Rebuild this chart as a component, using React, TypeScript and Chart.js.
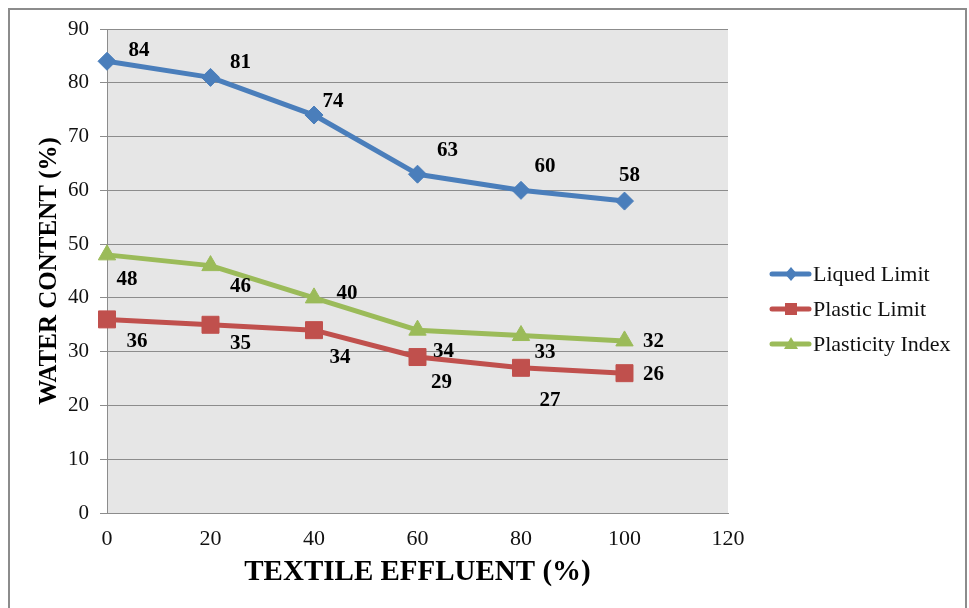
import React, { useEffect, useRef } from "react";
import { Chart, registerables } from "chart.js";

Chart.register(...registerables);

const effluent = [0, 20, 40, 60, 80, 100];
const liquidLimit = [84, 81, 74, 63, 60, 58];
const plasticLimit = [36, 35, 34, 29, 27, 26];
const plasticityIndex = [48, 46, 40, 34, 33, 32];
const seriesNames = ["Liqued Limit", "Plastic Limit", "Plasticity Index"];

// label offsets (style only)
const liquidOffsets = [[32, -11], [30, -15], [19, -13], [30, -24], [24, -24], [5, -26]];
const plasticOffsets = [[30, 22], [30, 19], [26, 27], [24, 26], [29, 33], [29, 1]];
const indexOffsets = [[20, 25], [30, 21], [33, -4], [26, 21], [24, 17], [29, 1]];

const SERIF = "'Liberation Serif', 'Times New Roman', serif";

export default function App() {
  const ref = useRef<HTMLCanvasElement | null>(null);
  useEffect(() => {
    document.documentElement.style.overflow = "hidden";
    if (!ref.current) return;
    const offsetsList = [liquidOffsets, plasticOffsets, indexOffsets];
    const mk = (label: string, vals: number[], color: string, style: any, radius: number) => ({
      label,
      data: effluent.map((x, i) => ({ x, y: vals[i] })),
      borderColor: color,
      backgroundColor: color,
      pointBackgroundColor: color,
      pointBorderColor: color,
      pointBorderWidth: 1,
      pointStyle: style,
      pointRadius: radius,
      borderWidth: 5,
      borderJoinStyle: "round",
      borderCapStyle: "round",
      tension: 0,
      clip: false,
    });
    const bgPlugin = {
      id: "bg",
      beforeDraw(chart: any) {
        const { ctx, chartArea } = chart;
        ctx.save();
        ctx.fillStyle = "#e6e6e6";
        ctx.fillRect(chartArea.left, chartArea.top, chartArea.right - chartArea.left, chartArea.bottom - chartArea.top);
        ctx.restore();
      },
    };
    const labelPlugin = {
      id: "labels",
      afterDatasetsDraw(chart: any) {
        const { ctx } = chart;
        ctx.save();
        ctx.font = `bold 21px ${SERIF}`;
        ctx.fillStyle = "#000";
        ctx.textAlign = "center";
        ctx.textBaseline = "middle";
        chart.data.datasets.forEach((ds: any, di: number) => {
          const meta = chart.getDatasetMeta(di);
          meta.data.forEach((pt: any, i: number) => {
            const off = offsetsList[di][i];
            ctx.fillText(String(ds.data[i].y), pt.x + off[0], pt.y + off[1]);
          });
        });
        ctx.restore();
      },
    };
    const legendPlugin = {
      id: "customLegend",
      afterDraw(chart: any) {
        const { ctx } = chart;
        ctx.save();
        chart.data.datasets.forEach((ds: any, i: number) => {
          const y = 264 + i * 35;
          const x0 = 762, x1 = 799;
          const cx = 781;
          ctx.strokeStyle = ds.borderColor;
          ctx.lineWidth = 5;
          ctx.lineCap = "round";
          ctx.beginPath();
          ctx.moveTo(x0, y);
          ctx.lineTo(x1, y);
          ctx.stroke();
          ctx.fillStyle = ds.borderColor;
          ctx.beginPath();
          if (ds.pointStyle === "rectRot") {
            ctx.moveTo(cx, y - 7); ctx.lineTo(cx + 6, y); ctx.lineTo(cx, y + 7); ctx.lineTo(cx - 6, y);
          } else if (ds.pointStyle === "rect") {
            ctx.rect(cx - 6, y - 6, 12, 12);
          } else {
            ctx.moveTo(cx, y - 7); ctx.lineTo(cx + 7, y + 5); ctx.lineTo(cx - 7, y + 5);
          }
          ctx.closePath();
          ctx.fill();
          ctx.fillStyle = "#111";
          ctx.font = `22px ${SERIF}`;
          ctx.textAlign = "left";
          ctx.textBaseline = "middle";
          ctx.fillText(ds.label, 803, y + 1);
        });
        ctx.restore();
      },
    };
    const chart = new Chart(ref.current, {
      type: "line",
      data: {
        datasets: [
          mk(seriesNames[0], liquidLimit, "#4a7ebb", "rectRot", 9),
          mk(seriesNames[1], plasticLimit, "#c0504d", "rect", 12),
          mk(seriesNames[2], plasticityIndex, "#9bbb59", "triangle", 10),
        ] as any,
      },
      options: {
        responsive: false,
        animation: false,
        devicePixelRatio: 1,
        layout: { padding: { top: 19, right: 237, left: 0, bottom: 0 } },
        plugins: { legend: { display: false }, tooltip: { enabled: false } },
        scales: {
          x: {
            type: "linear",
            min: 0,
            max: 120,
            ticks: { stepSize: 20, color: "#111", font: { family: SERIF, size: 22 }, padding: 13 },
            grid: { display: false, drawTicks: false },
            border: { display: true, color: "#8c8c8c", width: 1 },
            title: {
              display: true,
              text: "TEXTILE EFFLUENT (%)",
              color: "#000",
              font: { family: SERIF, size: 29, weight: "bold" },
              padding: { top: 0, bottom: 40 },
            },
            afterFit(scale: any) { scale.height = 117; scale.paddingLeft = 0; scale.paddingRight = 0; },
          } as any,
          y: {
            min: 0,
            max: 90,
            ticks: { stepSize: 10, color: "#111", font: { family: SERIF, size: 21 }, padding: 11 },
            grid: { color: "#8c8c8c", lineWidth: 1, tickLength: 7, drawTicks: true },
            border: { display: true, color: "#8c8c8c", width: 1 },
            title: {
              display: true,
              text: "WATER CONTENT (%)",
              color: "#000",
              font: { family: SERIF, size: 25, weight: "bold" },
              padding: { top: 25, bottom: 0 },
            },
            afterFit(scale: any) { scale.width = 97; scale.paddingTop = 0; scale.paddingBottom = 0; },
          } as any,
        },
      },
      plugins: [bgPlugin, labelPlugin, legendPlugin],
    });
    return () => chart.destroy();
  }, []);
  return (
    <div style={{ position: "fixed", left: 8, top: 8, width: 955, height: 620, border: "2px solid #8c8c8c", background: "#fff" }}>
      <canvas ref={ref} width={955} height={620} style={{ width: 955, height: 620, display: "block" }} />
    </div>
  );
}
